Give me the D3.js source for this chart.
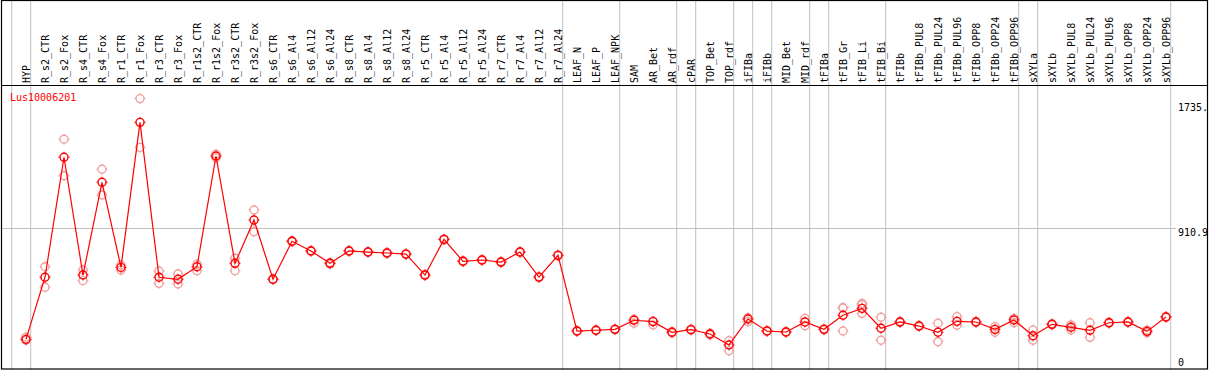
<!DOCTYPE html>
<html>
<head>
<meta charset="utf-8">
<script src="https://cdn.jsdelivr.net/npm/d3@7"></script>
<style>
  body { margin: 0; background: #fff; }
  svg { display: block; }
  text { font-family: "DejaVu Sans Mono", monospace; font-size: 10px; }
</style>
</head>
<body>
<div id="chart"></div>
<script>
// gene and samples
const geneName = 'Lus10006201'

const samples = ['HYP', 'R_s2_CTR', 'R_s2_Fox', 'R_s4_CTR', 'R_s4_Fox', 'R_r1_CTR', 'R_r1_Fox', 'R_r3_CTR', 'R_r3_Fox',
    'R_r1s2_CTR', 'R_r1s2_Fox', 'R_r3s2_CTR', 'R_r3s2_Fox', 'R_s6_CTR', 'R_s6_Al4', 'R_s6_Al12', 'R_s6_Al24',
    'R_s8_CTR', 'R_s8_Al4', 'R_s8_Al12', 'R_s8_Al24', 'R_r5_CTR', 'R_r5_Al4', 'R_r5_Al12', 'R_r5_Al24',
    'R_r7_CTR', 'R_r7_Al4', 'R_r7_Al12', 'R_r7_Al24', 'LEAF_N', 'LEAF_P', 'LEAF_NPK', 'SAM', 'AR_Bet', 'AR_rdf',
    'cPAR', 'TOP_Bet', 'TOP_rdf', 'iFIBa', 'iFIBb', 'MID_Bet', 'MID_rdf', 'tFIBa', 'tFIB_Gr', 'tFIB_Li', 'tFIB_Bi',
    'tFIBb', 'tFIBb_PUL8', 'tFIBb_PUL24', 'tFIBb_PUL96', 'tFIBb_OPP8', 'tFIBb_OPP24', 'tFIBb_OPP96',
    'sXYLa', 'sXYLb', 'sXYLb_PUL8', 'sXYLb_PUL24', 'sXYLb_PUL96', 'sXYLb_OPP8', 'sXYLb_OPP24', 'sXYLb_OPP96']

// mean expression per sample
const meanValues = [196, 593, 1360, 607, 1200, 656, 1583, 593, 580,
    660, 1368, 682, 959, 580, 823, 761, 682,
    761, 754, 748, 741, 607, 835, 695, 703,
    690, 754, 594, 733, 249, 254, 260, 318, 309, 241,
    258, 230, 160, 326, 249, 243, 307, 260, 350, 394, 267,
    307, 281, 241, 311, 307, 260, 320,
    219, 292, 273, 254, 302, 307, 247, 339]

// replicates
const repA = [210, 660, 1475, 639, 1283, 671, 1735, 633, 614,
    676, 1380, 714, 1023, 582, 826, 764, 686,
    764, 757, 751, 744, 611, 838, 698, 706,
    693, 757, 597, 736, 252, 257, 263, 324, 313, 245,
    261, 235, 187, 334, 252, 246, 330, 263, 398, 426, 337,
    310, 284, 299, 341, 310, 277, 330,
    256, 295, 288, 302, 305, 310, 255, 342]

const repB = [190, 529, 1242, 571, 1119, 639, 1423, 554, 550,
    635, 1356, 635, 884, 578, 820, 758, 678,
    758, 751, 745, 738, 603, 832, 692, 700,
    687, 751, 591, 730, 246, 251, 257, 299, 288, 237,
    255, 224, 123, 309, 246, 240, 283, 257, 249, 417, 190,
    304, 278, 181, 286, 304, 241, 302,
    190, 289, 256, 209, 299, 304, 238, 336]

const repC = samples.map(d => null)
repC[43] = 398
repC[44] = 362

// value axis
const axisMax = 1821.8
const tickValues = [1735, 910.9, 0]
const tickLabels = ['1735.', '910.9', '0']
const gridValues = [910.9]

// last sample index of each group (-1 = left edge)
const groupEnds = [-1, 0, 28, 31, 34, 35, 37, 38, 39, 41, 42, 45, 52, 53, 60]

const width = 1209
const height = 370
const headerBottom = 85

const svg = d3.select('#chart').append('svg')
    .attr('width', width)
    .attr('height', height)

const x = d3.scalePoint()
    .domain(samples)
    .range([26, 1166])

const step = x.step()

const y = d3.scaleLinear()
    .domain([0, axisMax])
    .range([370, headerBottom])

// group separator lines
svg.selectAll('line.sep')
    .data(groupEnds)
    .join('line')
    .attr('class', 'sep')
    .attr('x1', d => x(samples[0]) + step * d + 4.7)
    .attr('x2', d => x(samples[0]) + step * d + 4.7)
    .attr('y1', 0)
    .attr('y2', height)
    .attr('stroke', '#c0c0c0')
    .attr('stroke-width', 1)

// horizontal grid
svg.selectAll('line.grid')
    .data(gridValues)
    .join('line')
    .attr('class', 'grid')
    .attr('x1', 1)
    .attr('x2', 1176)
    .attr('y1', d => Math.round(y(d)) + 0.5)
    .attr('y2', d => Math.round(y(d)) + 0.5)
    .attr('stroke', '#c0c0c0')

// frame
svg.append('rect')
    .attr('x', 1.5)
    .attr('y', 0.5)
    .attr('width', width - 3)
    .attr('height', height - 1.5)
    .attr('fill', 'none')
    .attr('stroke', '#000')
    .attr('stroke-width', 1.2)

svg.append('line')
    .attr('x1', 1).attr('x2', width - 1)
    .attr('y1', headerBottom + 0.5).attr('y2', headerBottom + 0.5)
    .attr('stroke', '#000')
    .attr('stroke-width', 1.2)

// sample labels (rotated)
svg.selectAll('text.sample')
    .data(samples)
    .join('text')
    .attr('class', 'sample')
    .attr('transform', d => `translate(${x(d) + 4},83) rotate(-90)`)
    .attr('fill', '#000')
    .text(d => d)

// axis labels
svg.selectAll('text.tick')
    .data(tickValues)
    .join('text')
    .attr('class', 'tick')
    .attr('x', 1178)
    .attr('y', d => Math.min(Math.max(y(d) + 8, 110.5), 365.5))
    .attr('fill', '#000')
    .text((d, i) => tickLabels[i])

// gene name
svg.append('text')
    .attr('x', 10)
    .attr('y', 101)
    .attr('fill', '#ff0000')
    .text(geneName)

// marker: circle with small ticks
const drawMarker = (g, color) => {
    g.append('circle')
        .attr('r', 4)
        .attr('fill', 'none')
        .attr('stroke', color)
        .attr('stroke-width', 1.4)
    const ticks = [[0, -1], [0, 1], [-1, 0], [1, 0]]
    ticks.forEach(t => {
        g.append('line')
            .attr('x1', t[0] * 4).attr('y1', t[1] * 4)
            .attr('x2', t[0] * 5.5).attr('y2', t[1] * 5.5)
            .attr('stroke', color)
            .attr('stroke-width', 1)
    })
}

// replicate points
const reps = []
samples.forEach((s, i) => {
    [repA[i], repB[i], repC[i]].forEach(v => {
        if (v != null) reps.push({ s: s, v: v })
    })
})

svg.selectAll('g.rep')
    .data(reps)
    .join('g')
    .attr('class', 'rep')
    .attr('transform', d => `translate(${x(d.s)},${y(d.v)})`)
    .each(function () { drawMarker(d3.select(this), '#f0a0a0') })

// mean line
const line = d3.line()
    .x((d, i) => x(samples[i]))
    .y(d => y(d))

svg.append('path')
    .datum(meanValues)
    .attr('d', line)
    .attr('fill', 'none')
    .attr('stroke', '#ff0000')
    .attr('stroke-width', 1.2)

svg.selectAll('g.mean')
    .data(meanValues)
    .join('g')
    .attr('class', 'mean')
    .attr('transform', (d, i) => `translate(${x(samples[i])},${y(d)})`)
    .each(function () { drawMarker(d3.select(this), '#ff0000') })
</script>
</body>
</html>
